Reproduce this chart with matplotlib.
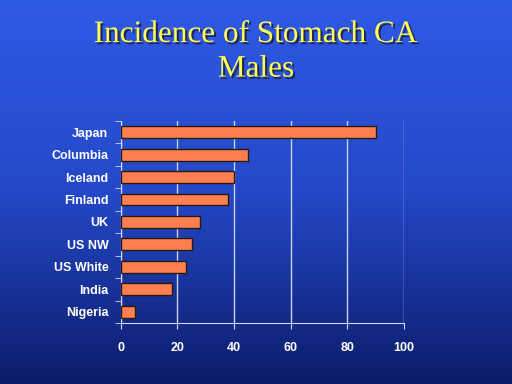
import numpy as np
import matplotlib.pyplot as plt
import matplotlib.patheffects as pe
from matplotlib.colors import LinearSegmentedColormap

countries = ['Japan', 'Columbia', 'Iceland', 'Finland', 'UK', 'US NW', 'US White', 'India', 'Nigeria']
incidence = [90, 45, 40, 38, 28, 25, 23, 18, 5]
xticks = [0, 20, 40, 60, 80, 100]

fig = plt.figure(figsize=(5.12, 3.84), dpi=100)

# background gradient, bright blue on top to navy at the bottom
bg = fig.add_axes([0, 0, 1, 1], zorder=-10)
grad = np.linspace(0, 1, 256).reshape(-1, 1)
cmap = LinearSegmentedColormap.from_list('bg', ['#2f5ae6', '#2448c8', '#0c1c6a'])
bg.imshow(grad, aspect='auto', cmap=cmap, extent=[0, 1, 0, 1], origin='upper')
bg.axis('off')

shadow = [pe.withSimplePatchShadow(offset=(1.5, -1.5), shadow_rgbFace='#202040', alpha=0.9)]
fig.text(0.5, 0.91, 'Incidence of Stomach CA', ha='center', va='center',
         fontsize=22.5, family='Liberation Serif', color='#ffff55', path_effects=shadow)
fig.text(0.5, 0.82, 'Males', ha='center', va='center',
         fontsize=22.5, family='Liberation Serif', color='#ffff55', path_effects=shadow)

ax = fig.add_axes([0.236, 0.159, 0.553, 0.526])
ax.patch.set_alpha(0)
y = np.arange(len(countries))
ax.barh(y, incidence, height=0.53, color='#ff7f50', edgecolor='#2a1a10', linewidth=1, zorder=3)
ax.set_ylim(len(countries) - 0.5, -0.5)
ax.set_xlim(0, 100)
ax.set_xticks(xticks)
ax.set_yticks(y)
ax.set_yticklabels(countries)
ax.set_yticks(np.arange(-0.5, len(countries)), minor=True)
ax.tick_params(axis='y', which='major', length=0, pad=9, labelcolor='white', labelsize=9)
ax.tick_params(axis='y', which='minor', length=4, color='#d0d8ff')
ax.tick_params(axis='x', length=4, color='#d0d8ff', labelcolor='white', labelsize=9, pad=10)
for lab in ax.get_xticklabels() + ax.get_yticklabels():
    lab.set_fontweight('bold')
    lab.set_family('Liberation Sans')
ax.grid(axis='x', color='#c8d4ff', linewidth=1, zorder=1)
for s in ['top', 'right']:
    ax.spines[s].set_visible(False)
for s in ['left', 'bottom']:
    ax.spines[s].set_color('#d0d8ff')

plt.savefig('out.png', dpi=100)
